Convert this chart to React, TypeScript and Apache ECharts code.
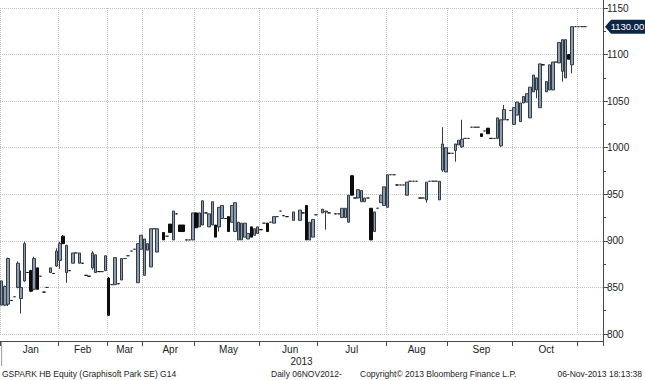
import React, { useEffect, useRef } from "react";
import * as echarts from "echarts";

// ---- data (trading-day slot, OHLC) ----
const TOTAL_SLOTS = 186;

const days = [
  // Jan
  0, 1, 2, 3, 4, 5, 6, 7, 8, 9, 10, 11, 12, 13, 14, 15, 16, 17,
  // Feb
  18, 19, 20, 21, 22, 23, 24, 25, 26, 27, 28, 29, 30, 31, 32,
  // Mar
  33, 34, 35, 36, 37, 38, 39, 40, 41, 42, 43,
  // Apr
  44, 45, 46, 47, 48, 50, 51, 52, 53, 54, 55, 56, 57, 58, 59,
  // May
  60, 61, 62, 63, 64, 65, 66, 67, 68, 69, 70, 71, 72, 73, 74, 75, 76, 77, 78, 79,
  // Jun
  80, 81, 82, 83, 84, 85, 86, 87, 88, 90, 92, 93, 94, 95, 96, 97,
  // Jul
  99, 100, 101, 103, 104, 105, 106, 107, 108, 109, 110, 111, 112, 113, 114, 115, 116, 117, 118,
  // Aug
  119, 120, 121, 122, 123, 124, 125, 126, 127, 128, 129, 130, 131, 132, 133, 134, 135, 136, 137,
  // Sep
  138, 139, 140, 141, 142, 143, 144, 145, 146, 147, 148, 149, 150, 151, 152, 153, 154, 155, 156, 157,
  // Oct
  158, 159, 160, 161, 162, 163, 164, 165, 166, 167, 168, 169, 170, 171, 172, 173, 174, 175, 176, 177,
  // Nov
  178, 179, 180,
];

const opens = [
  831, 831, 832, 836, 840, 850, 838, 857, 866, 868, 848, 871, 862, 845, 850, 866, 865, 873,
  879, 905, 866, 868, 876, 887, 876, 876, 863, 862, 871, 866, 867, 867, 868,
  860, 853, 853, 854, 858, 881, 884, 889, 891, 855, 891,
  863, 890, 872, 913, 888, 909, 905, 918, 901, 929, 917, 917, 901, 901, 901,
  930, 915, 917, 930, 915, 917, 917, 915, 924, 924, 926, 920, 910, 901, 901, 904, 902, 915, 906, 908,
  912, 919, 919, 920, 919, 926, 932, 927, 926, 922, 922, 930, 938, 901, 904, 928,
  930, 931, 930, 929, 929, 925, 925, 920, 970, 946, 946, 942, 942, 946, 935, 910, 935, 941, 938,
  936, 971, 971, 960, 960, 960, 949, 964, 964, 964, 946, 946, 944, 964, 964, 964, 944, 976, 974,
  994, 994, 997, 1003, 1001, 1010, 1010, 1022, 1022, 1022, 1015, 1018, 1021, 1010, 1010, 1010, 1002, 1030, 1030, 1040,
  1025, 1035, 1028, 1048, 1049, 1032, 1060, 1062, 1043, 1089, 1060, 1062, 1062, 1092, 1091, 1082, 1075, 1100, 1089, 1130,
  1130, 1130, 1130,
];

const closes = [
  857, 851, 881, 836, 840, 876, 850, 897, 866, 846, 881, 848, 862, 845, 850, 871, 865, 889,
  897, 897, 895, 868, 887, 887, 887, 876, 863, 862, 887, 885, 867, 867, 884,
  820, 853, 882, 854, 881, 881, 884, 889, 891, 897, 906,
  902, 897, 913, 913, 913, 901, 905, 909, 932, 929, 910, 910, 901, 901, 930,
  914, 930, 943, 930, 929, 942, 904, 936, 938, 924, 910, 938, 941, 920, 919, 919, 908, 904, 913, 915,
  912, 919, 910, 920, 926, 926, 932, 927, 926, 931, 933, 930, 901, 920, 923, 928,
  934, 932, 930, 929, 929, 935, 935, 949, 949, 946, 955, 954, 946, 946, 901, 931, 935, 949, 958,
  971, 971, 971, 960, 960, 960, 963, 964, 964, 964, 946, 946, 963, 964, 964, 964, 964, 1004, 1000,
  994, 994, 1004, 1008, 1009, 1010, 1010, 1022, 1022, 1022, 1012, 1018, 1015, 1010, 1010, 1032, 1030, 1041, 1030, 1040,
  1043, 1049, 1048, 1055, 1058, 1065, 1078, 1075, 1090, 1089, 1071, 1089, 1092, 1092, 1113, 1116, 1116, 1095, 1130, 1130,
  1130, 1130, 1130,
];

const lows = [
  831, 830, 830, 836, 840, 849, 822, 856, 866, 845, 847, 848, 862, 845, 850, 866, 865, 872,
  870, 897, 855, 868, 876, 887, 876, 876, 863, 862, 869, 866, 867, 867, 868,
  820, 853, 853, 854, 858, 881, 884, 889, 891, 855, 891,
  863, 890, 872, 913, 888, 901, 905, 909, 901, 929, 910, 910, 901, 901, 901,
  914, 915, 917, 930, 915, 917, 904, 910, 924, 924, 910, 920, 910, 901, 901, 904, 902, 904, 906, 908,
  912, 919, 910, 920, 919, 926, 932, 927, 926, 922, 922, 930, 901, 901, 904, 928,
  930, 912, 930, 929, 929, 925, 925, 920, 949, 946, 946, 942, 942, 946, 901, 910, 935, 941, 938,
  936, 971, 971, 960, 960, 960, 949, 964, 964, 964, 946, 946, 941, 964, 964, 964, 944, 974, 974,
  994, 994, 985, 1003, 1000, 1010, 1010, 1022, 1022, 1022, 1012, 1018, 1015, 1010, 1010, 1010, 1001, 1030, 1030, 1040,
  1025, 1035, 1028, 1048, 1049, 1032, 1060, 1053, 1043, 1089, 1060, 1062, 1062, 1092, 1091, 1071, 1075, 1095, 1080, 1130,
  1130, 1130, 1130,
];

const highs = [
  857, 852, 882, 836, 840, 878, 868, 899, 866, 869, 883, 871, 862, 845, 850, 871, 865, 892,
  899, 906, 896, 868, 887, 887, 887, 876, 863, 862, 889, 885, 867, 867, 884,
  861, 853, 882, 854, 881, 881, 884, 889, 891, 897, 906,
  902, 897, 913, 913, 913, 909, 905, 918, 932, 929, 917, 917, 901, 901, 930,
  930, 930, 943, 930, 929, 942, 917, 936, 938, 924, 926, 938, 941, 920, 919, 919, 908, 915, 913, 915,
  912, 919, 919, 920, 926, 926, 932, 927, 926, 931, 933, 930, 938, 920, 923, 928,
  934, 932, 930, 929, 929, 935, 935, 949, 970, 946, 955, 954, 946, 946, 935, 931, 935, 949, 958,
  971, 971, 971, 960, 960, 960, 963, 964, 964, 964, 946, 946, 963, 964, 964, 964, 964, 1022, 1000,
  994, 994, 1004, 1008, 1030, 1010, 1010, 1022, 1022, 1022, 1015, 1018, 1021, 1010, 1010, 1032, 1030, 1046, 1030, 1040,
  1043, 1049, 1048, 1055, 1058, 1065, 1078, 1075, 1090, 1089, 1071, 1089, 1092, 1092, 1113, 1116, 1116, 1100, 1130, 1130,
  1130, 1130, 1130,
];

const monthNames = ["Jan", "Feb", "Mar", "Apr", "May", "Jun", "Jul", "Aug", "Sep", "Oct", "Nov"];
const monthStartDays = [0, 18, 33, 44, 60, 80, 98, 119, 138, 158, 178];
const labelledMonths = 10; // Nov too short to carry a label
const yearLabel = "2013";

const footerLeft = "GSPARK HB Equity (Graphisoft Park SE) G14";
const footerDaily = "Daily 06NOV2012-";
const footerCopy = "Copyright\u00A9 2013 Bloomberg Finance L.P.";
const footerTime = "06-Nov-2013 18:13:38";

const W = 645;
const H = 380;
const GRID_RIGHT = 42;
const GRID_TOP = 8;
const GRID_BOTTOM = 46;
const FONT = "'Liberation Sans', Arial, sans-serif";

export default function App() {
  const ref = useRef<HTMLDivElement>(null);

  useEffect(() => {
    if (!ref.current) return;
    const chart = echarts.init(ref.current, null, { renderer: "svg" });

    const slotLabels = Array.from({ length: TOTAL_SLOTS }, (_, i) => String(i));
    const lastDay = days[days.length - 1];
    const ohlc: any[] = Array.from({ length: lastDay + 1 }, () => ["-", "-", "-", "-"]);
    days.forEach((d, k) => {
      ohlc[d] = [opens[k], closes[k], lows[k], highs[k]];
    });

    const startSet = new Set(monthStartDays);
    const labelMap = new Map<number, string>();
    for (let m = 0; m < labelledMonths; m++) {
      const mid = Math.floor((monthStartDays[m] + monthStartDays[m + 1]) / 2);
      labelMap.set(mid, monthNames[m]);
    }

    const axisColor = "#4a4a4a";
    const gridColor = "#c2c2c2";

    chart.setOption({
      animation: false,
      backgroundColor: "#ffffff",
      textStyle: { fontFamily: FONT },
      grid: { left: 0, right: GRID_RIGHT, top: GRID_TOP, bottom: GRID_BOTTOM, containLabel: false },
      xAxis: {
        type: "category",
        data: slotLabels,
        boundaryGap: true,
        offset: 7,
        axisLine: { show: true, lineStyle: { color: axisColor, width: 1 } },
        axisTick: {
          show: true,
          interval: (i: number) => startSet.has(i),
          length: 5,
          lineStyle: { color: axisColor },
        },
        axisLabel: {
          show: true,
          interval: (i: number) => labelMap.has(i),
          formatter: (v: string) => labelMap.get(Number(v)) ?? "",
          color: "#222",
          fontSize: 10,
          fontFamily: FONT,
          margin: 3,
        },
        splitLine: {
          show: true,
          interval: (i: number) => startSet.has(i),
          lineStyle: { type: "dotted", color: gridColor, width: 1 },
        },
      },
      yAxis: {
        type: "value",
        position: "right",
        min: 800,
        max: 1150,
        interval: 50,
        axisLine: { show: true, lineStyle: { color: axisColor, width: 1 } },
        axisTick: { show: true, length: 5, lineStyle: { color: axisColor } },
        minorTick: { show: true, splitNumber: 2, length: 3, lineStyle: { color: axisColor } },
        axisLabel: {
          color: "#222",
          fontSize: 10,
          fontFamily: FONT,
          margin: 4,
          formatter: (v: number) => String(v),
        },
        splitLine: { show: true, lineStyle: { type: "dotted", color: gridColor, width: 1 } },
      },
      series: [
        {
          type: "candlestick",
          data: ohlc,
          barWidth: 3,
          itemStyle: {
            color: "#8c9cb0",
            color0: "#0d0d0d",
            borderColor: "#323b46",
            borderColor0: "#0d0d0d",
            borderWidth: 1,
          },
        },
      ],
    });

    const gridRightX = W - GRID_RIGHT;
    const axisY = H - GRID_BOTTOM + 7;
    const lastClose = closes[closes.length - 1];
    const tagY = chart.convertToPixel({ yAxisIndex: 0 }, lastClose) as number;
    const leftX = chart.convertToPixel({ xAxisIndex: 0 }, slotLabels[0]) as number;
    const footerFont = `8.5px ${FONT}`;

    chart.setOption({
      graphic: [
        {
          type: "line",
          shape: { x1: gridRightX + 0.5, y1: 0, x2: gridRightX + 0.5, y2: axisY },
          style: { stroke: axisColor, lineWidth: 1 },
          silent: true,
        },
        {
          type: "line",
          shape: { x1: leftX, y1: axisY, x2: leftX, y2: axisY + 25 },
          style: { stroke: "#9a9a9a", lineWidth: 1 },
          silent: true,
        },
        {
          type: "text",
          x: gridRightX / 2,
          y: 361,
          style: { text: yearLabel, fill: "#222", font: `10px ${FONT}`, textAlign: "center", textVerticalAlign: "middle" },
        },
        {
          type: "polygon",
          shape: {
            points: [
              [gridRightX + 2, tagY],
              [gridRightX + 8, tagY - 7],
              [W, tagY - 7],
              [W, tagY + 7],
              [gridRightX + 8, tagY + 7],
            ],
          },
          style: { fill: "#0e2646" },
          silent: true,
        },
        {
          type: "text",
          x: (gridRightX + 7 + W) / 2,
          y: tagY,
          style: {
            text: lastClose.toFixed(2),
            fill: "#ffffff",
            font: `9.5px ${FONT}`,
            textAlign: "center",
            textVerticalAlign: "middle",
          },
        },
        {
          type: "text",
          x: 2,
          y: 374,
          style: { text: footerLeft, fill: "#222", font: footerFont, textAlign: "left", textVerticalAlign: "middle" },
        },
        {
          type: "text",
          x: 271,
          y: 374,
          style: { text: footerDaily, fill: "#222", font: footerFont, textAlign: "left", textVerticalAlign: "middle" },
        },
        {
          type: "text",
          x: 360,
          y: 374,
          style: { text: footerCopy, fill: "#222", font: footerFont, textAlign: "left", textVerticalAlign: "middle" },
        },
        {
          type: "text",
          x: 642,
          y: 374,
          style: { text: footerTime, fill: "#222", font: footerFont, textAlign: "right", textVerticalAlign: "middle" },
        },
      ],
    });

    return () => chart.dispose();
  }, []);

  return (
    <div
      ref={ref}
      style={{ position: "fixed", left: 0, top: 0, width: W, height: H, background: "#fff" }}
    />
  );
}
